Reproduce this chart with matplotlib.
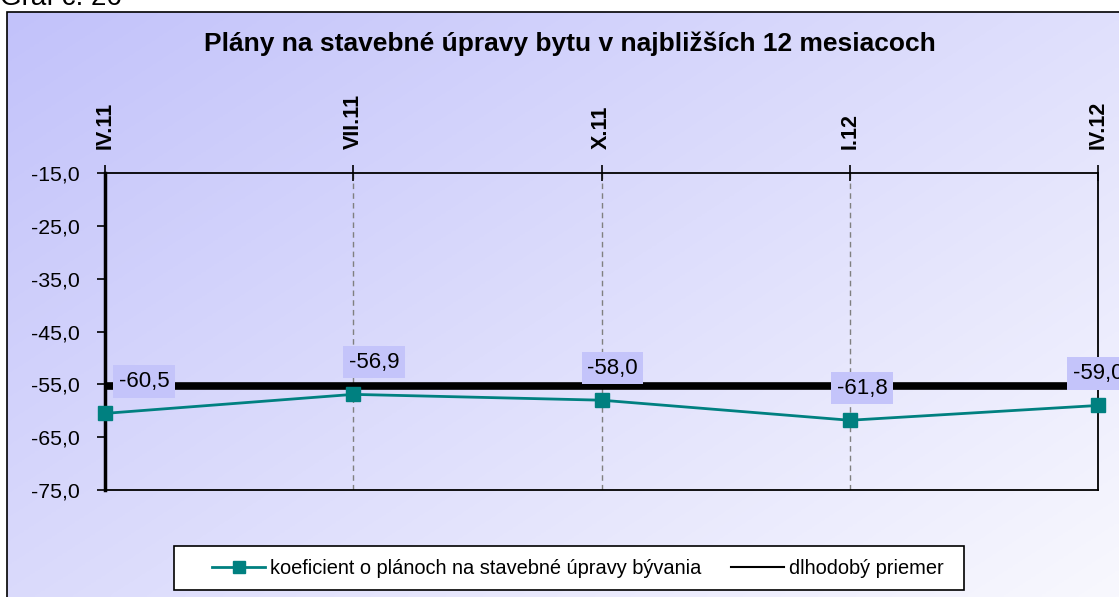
import numpy as np
import matplotlib.pyplot as plt
from matplotlib.patches import Rectangle
from matplotlib.lines import Line2D

# data
periods = ["IV.11", "VII.11", "X.11", "I.12", "IV.12"]
koeficient = [-60.5, -56.9, -58.0, -61.8, -59.0]
priemer = [-55.3, -55.3, -55.3, -55.3, -55.3]
y_ticks = [-15, -25, -35, -45, -55, -65, -75]

W, H = 1119, 597
fig = plt.figure(figsize=(W / 100, H / 100), dpi=100)
fig.patch.set_facecolor("white")

# gradient background inside the frame
bg = fig.add_axes([7 / W, 0, 1 - 7 / W, 1 - 12 / H], zorder=-2)
yy, xx = np.mgrid[0:1:200j, 0:1:200j]
t = np.clip(0.55 * xx + 0.45 * yy, 0, 1)
c0 = np.array([194, 194, 250]) / 255
c1 = np.array([248, 248, 254]) / 255
img = c0 + (c1 - c0) * t[..., None]
bg.imshow(img, aspect="auto", extent=[0, 1, 0, 1], origin="upper")
bg.axis("off")
fig.patches.append(Rectangle((7 / W, -0.1), 1.2, 1 - 12 / H + 0.1,
                             transform=fig.transFigure, fill=False,
                             edgecolor="black", linewidth=1.2, zorder=-1))

fig.text(0.0, 1 - 5 / H, "Graf č. 26", fontsize=20, family="Liberation Sans",
         va="baseline", ha="left")

fig.text(570 / W, 1 - 44 / H, "Plány na stavebné úpravy bytu v najbližších 12 mesiacoch",
         fontsize=19, fontweight="bold", family="Liberation Sans",
         ha="center", va="center")

ax = fig.add_axes([105 / W, 1 - 490 / H, (1098 - 105) / W, (490 - 173) / H])
ax.patch.set_alpha(0)
x = np.arange(len(periods))

ax.plot(x, priemer, color="black", linewidth=5.5, zorder=2, solid_capstyle="butt")
ax.plot(x, koeficient, color="#008080", linewidth=2, marker="s", markersize=10,
        zorder=3, clip_on=False)

ax.set_xlim(0, 4)
ax.set_ylim(-75, -15)
ax.set_yticks(y_ticks)
ax.set_yticklabels([f"{v:.1f}".replace(".", ",") for v in y_ticks],
                   fontsize=15.3, family="Liberation Sans")
ax.tick_params(axis="y", direction="out", length=6, width=1.2, pad=12)

ax.xaxis.tick_top()
ax.set_xticks(x)
ax.set_xticklabels(periods, rotation=90, fontsize=15.5, fontweight="bold",
                   family="Liberation Sans")
ax.tick_params(axis="x", direction="inout", length=12, width=1.2, pad=11)

for xi in x[1:-1]:
    ax.axvline(xi, color="#808080", linestyle=(0, (4, 3)), linewidth=1, zorder=1)

for side in ["top", "bottom", "right"]:
    ax.spines[side].set_linewidth(1.3)
ax.spines["left"].set_linewidth(2.5)

# data labels
offsets = [(28, 23), (15, 23), (8, 23), (9, 23), (0, 23)]
for xi, v, off in zip(x, koeficient, offsets):
    ax.annotate(f"{v:.1f}".replace(".", ","), (xi, v), xytext=off,
                textcoords="offset points", ha="center", va="center",
                fontsize=16, family="Liberation Sans", annotation_clip=False,
                bbox=dict(boxstyle="square,pad=0.25", facecolor="#c4c4fa",
                          edgecolor="none"), zorder=5)

# legend with its own frame box
fig.patches.append(Rectangle((174 / W, 1 - 590 / H), (964 - 174) / W, 44 / H,
                             transform=fig.transFigure, facecolor="white",
                             edgecolor="black", linewidth=1.2, zorder=4))
handles = [
    Line2D([], [], color="#008080", linewidth=2, marker="s", markersize=9),
    Line2D([], [], color="black", linewidth=1.5),
]
labels = ["koeficient o plánoch na stavebné úpravy bývania", "dlhodobý priemer"]
leg = fig.legend(handles, labels, loc="center left", bbox_to_anchor=(212 / W, 1 - 568 / H),
                 ncol=2, frameon=False, borderpad=0, borderaxespad=0,
                 prop={"family": "Liberation Sans", "size": 14.4},
                 handlelength=2.65, columnspacing=1.5, handletextpad=0.25)
leg.set_zorder(5)

fig.savefig("out.png", dpi=100)
